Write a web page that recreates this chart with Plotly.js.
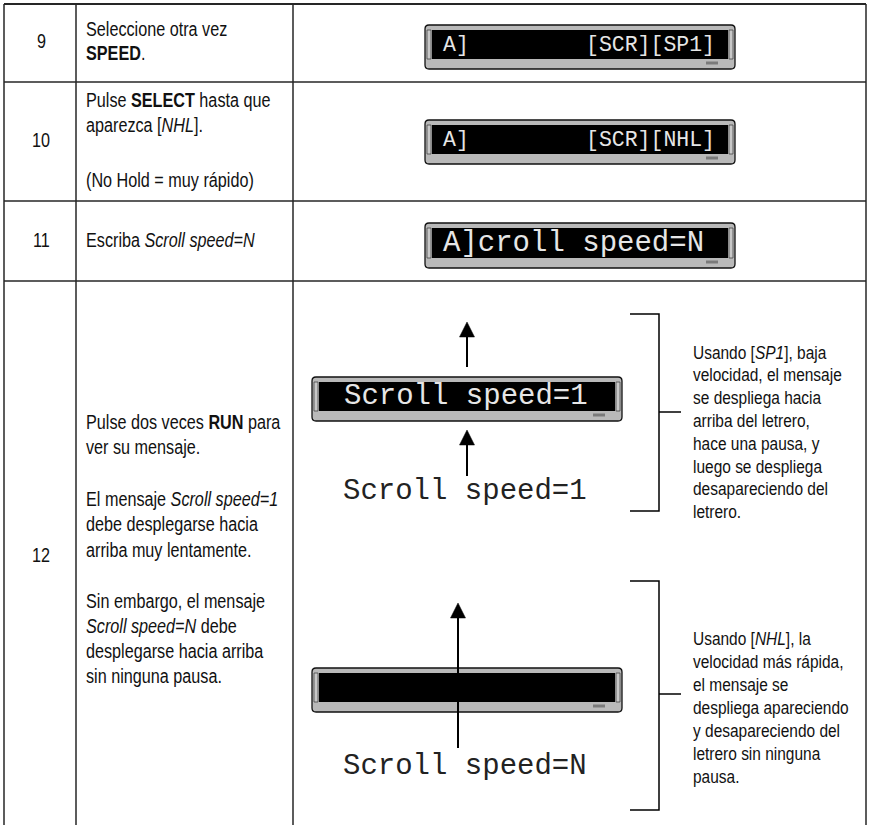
<!DOCTYPE html>
<html><head><meta charset="utf-8">
<script src="https://cdn.plot.ly/plotly-3.0.1.min.js"></script>
<style>html,body{margin:0;padding:0;background:#fff;overflow:hidden}</style>
</head><body><div id="chart" style="width:869px;height:825px"></div>
<script>
// ---------- content ----------
const stepNumbers = ['9', '10', '11', '12'];
const step9Text  = ['Seleccione otra vez', '<b>SPEED</b>.'];
const step10Text = ['Pulse <b>SELECT</b> hasta que', 'aparezca [<i>NHL</i>].', '(No Hold = muy rápido)'];
const step11Text = ['Escriba <i>Scroll speed=N</i>'];
const step12Text = ['Pulse dos veces <b>RUN</b> para', 'ver su mensaje.',
  'El mensaje <i>Scroll speed=1</i>', 'debe desplegarse hacia', 'arriba muy lentamente.',
  'Sin embargo, el mensaje', '<i>Scroll speed=N</i> debe', 'desplegarse hacia arriba', 'sin ninguna pausa.'];
const displayLeftText  = ['A]', 'A]', 'A]croll speed=N', 'Scroll speed=1', ''];
const displayRightText = ['[SCR][SP1]', '[SCR][NHL]', '', '', ''];
const messageBelow = ['Scroll speed=1', 'Scroll speed=N'];
const noteSP1 = ['Usando [<i>SP1</i>], baja', 'velocidad, el mensaje', 'se despliega hacia',
  'arriba del letrero,', 'hace una pausa, y', 'luego se despliega', 'desapareciendo del', 'letrero.'];
const noteNHL = ['Usando [<i>NHL</i>], la', 'velocidad más rápida,', 'el mensaje se',
  'despliega apareciendo', 'y desapareciendo del', 'letrero sin ninguna', 'pausa.'];

// ---------- geometry (page pixels) ----------
const W = 869, H = 825;
const colX = [4, 76, 293, 866];
const rowY = [4, 82, 201, 281];
const textX = 85, numX = 41;
const step9Y = [29, 53], step10Y = [100, 125, 180], step11Y = [240];
const step12Y = [422, 447, 499, 524, 550, 601, 626, 651, 676];
const numY = [41, 140, 240, 555];
const displays = [
  {x: 425, y: 25, h: 44, fs: 21.5, ty: 44.5, lx: 442, rx: 716},
  {x: 425, y: 120, h: 44, fs: 21.5, ty: 139.5, lx: 442, rx: 716},
  {x: 425, y: 223, h: 45, fs: 29, ty: 243, lx: 442},
  {x: 312, y: 377, h: 44, fs: 29, ty: 396, lx: 343},
  {x: 312, y: 668, h: 44, fs: 29, ty: 687, lx: 343}
];
const dispW = 310;
const belowPos = [{x: 342, y: 491}, {x: 342, y: 766}];
const arrows = [{x: 467, tip: 322, end: 367}, {x: 467, tip: 430, end: 476}, {x: 458, tip: 603, end: 748}];
const brackets = [{top: 314, bot: 511, mid: 412}, {top: 581, bot: 810, mid: 694}];
const notePos = [{x: 692, y0: 352, dy: 22.8}, {x: 692, y0: 638, dy: 23}];

// ---------- fonts ----------
const bodyFam = '"Liberation Sans", Arial, sans-serif';
const bodySize = 20, noteSize = 19.1, squeeze = 0.81;
const monoFam = '"Liberation Mono", "DejaVu Sans Mono", monospace';

// ---------- shapes ----------
const shapes = [];
const ink = '#262626';
function line(x0, y0, x1, y1, w, c) {
  shapes.push({type: 'line', xref: 'x', yref: 'y', x0, y0, x1, y1, line: {color: c || ink, width: w || 1.5}});
}
line(colX[0], rowY[0], colX[3], rowY[0], 2);
for (let i = 1; i < rowY.length; i++) line(colX[0], rowY[i], colX[3], rowY[i], 1.5);
colX.forEach(x => line(x, rowY[0], x, H + 5, 1.5));

function rrect(x0, y0, x1, y1, r) {
  return `M${x0 + r},${y0} H${x1 - r} Q${x1},${y0} ${x1},${y0 + r} V${y1 - r} Q${x1},${y1} ${x1 - r},${y1} H${x0 + r} Q${x0},${y1} ${x0},${y1 - r} V${y0 + r} Q${x0},${y0} ${x0 + r},${y0} Z`;
}
displays.forEach(d => {
  const x1 = d.x + dispW, y1 = d.y + d.h;
  const sTop = d.y + 5, sBot = y1 - 10;
  shapes.push({type: 'path', xref: 'x', yref: 'y', path: rrect(d.x, d.y, x1, y1, 4),
    fillcolor: '#b9b9b9', line: {color: '#111', width: 1.3}});
  shapes.push({type: 'rect', xref: 'x', yref: 'y', x0: d.x + 7, x1: x1 - 7, y0: sTop, y1: sBot,
    fillcolor: '#000', line: {width: 0}});
  shapes.push({type: 'rect', xref: 'x', yref: 'y', x0: d.x + 2, x1: d.x + 6, y0: sTop, y1: sBot,
    fillcolor: '#c8c8c8', line: {color: '#444', width: 0.8}});
  shapes.push({type: 'rect', xref: 'x', yref: 'y', x0: x1 - 6, x1: x1 - 2, y0: sTop, y1: sBot,
    fillcolor: '#c8c8c8', line: {color: '#444', width: 0.8}});
  shapes.push({type: 'rect', xref: 'x', yref: 'y', x0: x1 - 29, x1: x1 - 17, y0: y1 - 7.5, y1: y1 - 4.5,
    fillcolor: '#7a7a7a', line: {width: 0}});
});
arrows.forEach(a => {
  line(a.x, a.tip + 10, a.x, a.end, 2, '#000');
  shapes.push({type: 'path', xref: 'x', yref: 'y',
    path: `M${a.x},${a.tip} L${a.x + 7.5},${a.tip + 15} L${a.x - 7.5},${a.tip + 15} Z`,
    fillcolor: '#000', line: {color: '#000', width: 0.5}});
});
brackets.forEach(b => {
  shapes.push({type: 'path', xref: 'x', yref: 'y', path: `M630,${b.top} H659 V${b.bot} H630`,
    line: {color: '#000', width: 1.5}});
  line(659, b.mid, 681, b.mid, 1.5, '#000');
});

// ---------- annotations ----------
const ann = [];
const squeezeIdx = [];
function txt(text, x, y, opts) {
  opts = opts || {};
  if (!opts.family) squeezeIdx.push({i: ann.length, c: opts.xanchor === 'center'});
  ann.push({xref: 'x', yref: 'y', x, y, text, showarrow: false,
    xanchor: opts.xanchor || 'left', yanchor: 'middle', align: 'left', borderpad: 0,
    font: {family: opts.family || bodyFam, size: opts.size || bodySize, color: opts.color || '#111'}});
}
stepNumbers.forEach((n, i) => txt(n, numX, numY[i], {xanchor: 'center'}));
step9Text.forEach((t, i) => txt(t, textX, step9Y[i]));
step10Text.forEach((t, i) => txt(t, textX, step10Y[i]));
step11Text.forEach((t, i) => txt(t, textX, step11Y[i]));
step12Text.forEach((t, i) => txt(t, textX, step12Y[i]));
displays.forEach((d, i) => {
  if (displayLeftText[i]) txt(displayLeftText[i], d.lx, d.ty, {family: monoFam, size: d.fs, color: '#e6e6e6'});
  if (displayRightText[i]) txt(displayRightText[i], d.rx, d.ty, {family: monoFam, size: d.fs, color: '#e6e6e6', xanchor: 'right'});
});
messageBelow.forEach((m, i) => txt(m, belowPos[i].x, belowPos[i].y, {family: monoFam, size: 29, color: '#222'}));
[noteSP1, noteNHL].forEach((lines, k) => {
  lines.forEach((t, i) => txt(t, notePos[k].x, notePos[k].y0 + i * notePos[k].dy, {size: noteSize}));
});

const layout = {
  width: W, height: H, autosize: false,
  margin: {l: 0, r: 0, t: 0, b: 0, pad: 0},
  paper_bgcolor: '#fff', plot_bgcolor: '#fff',
  xaxis: {range: [0, W], visible: false, fixedrange: true},
  yaxis: {range: [H, 0], visible: false, fixedrange: true},
  showlegend: false, shapes, annotations: ann
};
Plotly.newPlot('chart', [], layout, {displayModeBar: false, staticPlot: true}).then(gd => {
  // condensed look for the body typeface
  squeezeIdx.forEach(s => {
    const g = gd.querySelector('.annotation[data-index="' + s.i + '"] text.annotation-text');
    if (!g) return;
    g.style.transformBox = 'fill-box';
    g.style.transformOrigin = s.c ? '50% 50%' : '0% 50%';
    g.style.transform = 'scaleX(' + squeeze + ')';
  });
});
</script>
</body></html>
